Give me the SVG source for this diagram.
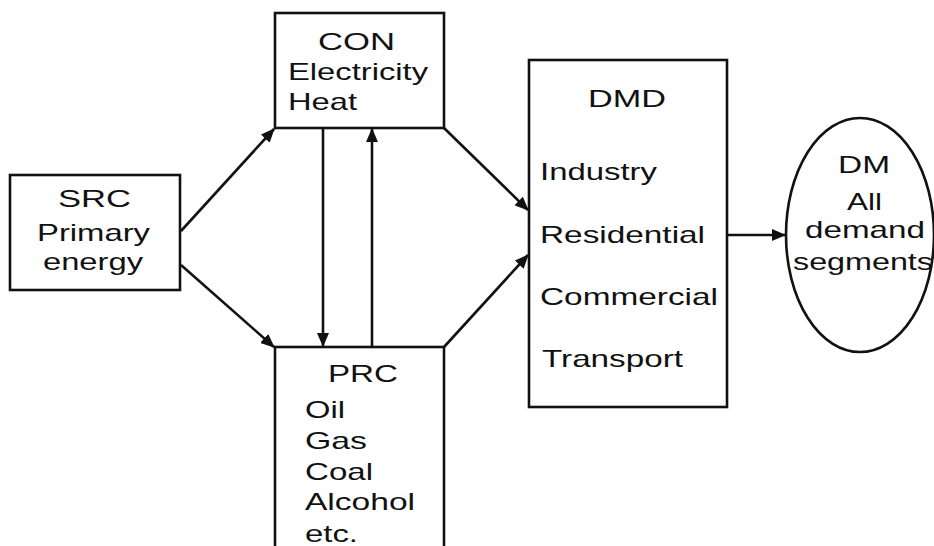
<svg xmlns="http://www.w3.org/2000/svg" width="934" height="546" viewBox="0 0 934 546">
<style>
.box{fill:#fff;stroke:#111;stroke-width:2.6}
.ln{stroke:#111;stroke-width:2.6;fill:none}
text{font-family:"Liberation Sans",Arial,sans-serif;font-size:24px;fill:#111}
</style>
<defs>
<marker id="ah" markerUnits="userSpaceOnUse" markerWidth="14" markerHeight="12" viewBox="0 0 14 12" refX="13" refY="6" orient="auto">
<path d="M0,0 L14,6 L0,12 Z" fill="#111"/>
</marker>
</defs>
<rect width="934" height="546" fill="#fff"/>
<g id="connectors">
<line class="ln" x1="181" y1="231" x2="274" y2="129" marker-end="url(#ah)"/>
<line class="ln" x1="181" y1="265" x2="274" y2="347" marker-end="url(#ah)"/>
<line class="ln" x1="323" y1="128" x2="323" y2="346" marker-end="url(#ah)"/>
<line class="ln" x1="372" y1="347" x2="372" y2="129" marker-end="url(#ah)"/>
<line class="ln" x1="444" y1="128" x2="528" y2="210" marker-end="url(#ah)"/>
<line class="ln" x1="444" y1="347" x2="528" y2="255" marker-end="url(#ah)"/>
<line class="ln" x1="727" y1="235" x2="785" y2="235" marker-end="url(#ah)"/>
</g>
<g id="SRC">
<rect class="box" x="10" y="175" width="170" height="115"/>
<text x="58" y="207" textLength="73" lengthAdjust="spacingAndGlyphs">SRC</text>
<text x="37" y="241" textLength="113" lengthAdjust="spacingAndGlyphs">Primary</text>
<text x="43" y="270" textLength="100" lengthAdjust="spacingAndGlyphs">energy</text>
</g>
<g id="CON">
<rect class="box" x="275" y="13" width="169" height="115"/>
<text x="318" y="50" textLength="77" lengthAdjust="spacingAndGlyphs">CON</text>
<text x="288" y="80" textLength="140" lengthAdjust="spacingAndGlyphs">Electricity</text>
<text x="288" y="110" textLength="69" lengthAdjust="spacingAndGlyphs">Heat</text>
</g>
<g id="PRC">
<rect class="box" x="275" y="347" width="169" height="210"/>
<text x="328" y="382" textLength="70" lengthAdjust="spacingAndGlyphs">PRC</text>
<text x="305" y="418" textLength="40" lengthAdjust="spacingAndGlyphs">Oil</text>
<text x="305" y="449" textLength="62" lengthAdjust="spacingAndGlyphs">Gas</text>
<text x="305" y="480" textLength="68" lengthAdjust="spacingAndGlyphs">Coal</text>
<text x="305" y="510" textLength="110" lengthAdjust="spacingAndGlyphs">Alcohol</text>
<text x="305" y="542" textLength="53" lengthAdjust="spacingAndGlyphs">etc.</text>
</g>
<g id="DMD">
<rect class="box" x="529" y="60" width="198" height="347"/>
<text x="588" y="107" textLength="78" lengthAdjust="spacingAndGlyphs">DMD</text>
<text x="540" y="180" textLength="117" lengthAdjust="spacingAndGlyphs">Industry</text>
<text x="540" y="243" textLength="165" lengthAdjust="spacingAndGlyphs">Residential</text>
<text x="540" y="305" textLength="178" lengthAdjust="spacingAndGlyphs">Commercial</text>
<text x="542" y="367" textLength="141" lengthAdjust="spacingAndGlyphs">Transport</text>
</g>
<g id="DM">
<ellipse class="box" cx="860" cy="235" rx="74" ry="117"/>
<text x="838" y="173" textLength="52" lengthAdjust="spacingAndGlyphs">DM</text>
<text x="847" y="210" textLength="35" lengthAdjust="spacingAndGlyphs">All</text>
<text x="805" y="238" textLength="120" lengthAdjust="spacingAndGlyphs">demand</text>
<text x="793" y="270" textLength="140" lengthAdjust="spacingAndGlyphs">segments</text>
</g>
</svg>
